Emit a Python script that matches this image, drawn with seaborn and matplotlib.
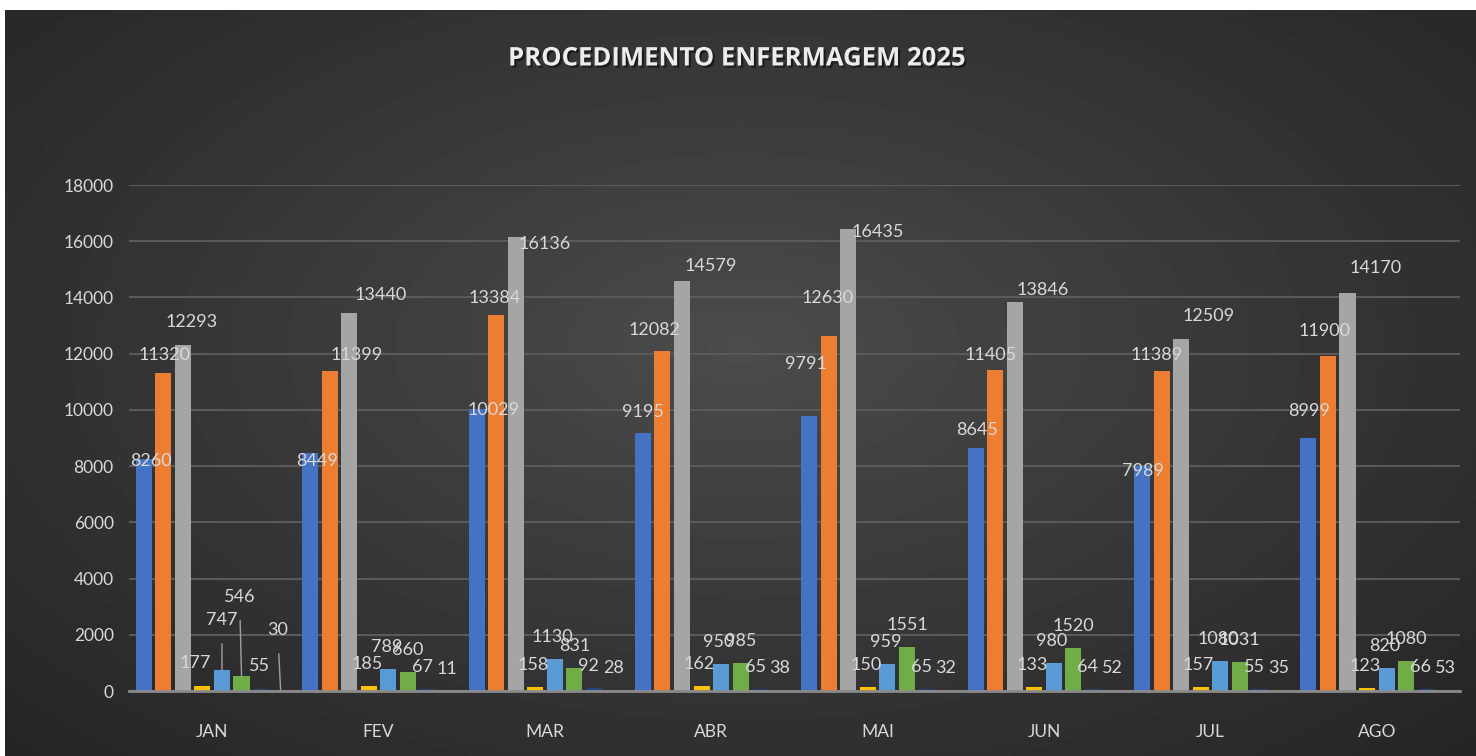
import numpy as np
import pandas as pd
import matplotlib
matplotlib.use("Agg")
import matplotlib.pyplot as plt
import matplotlib.patheffects as pe
import seaborn as sns

months = ["JAN", "FEV", "MAR", "ABR", "MAI", "JUN", "JUL", "AGO"]
series_names = ["Série 1", "Série 2", "Série 3", "Série 4", "Série 5", "Série 6", "Série 7", "Série 8"]
s1 = [8260, 8449, 10029, 9195, 9791, 8645, 7989, 8999]
s2 = [11320, 11399, 13384, 12082, 12630, 11405, 11389, 11900]
s3 = [12293, 13440, 16136, 14579, 16435, 13846, 12509, 14170]
s4 = [177, 185, 158, 162, 150, 133, 157, 123]
s5 = [747, 789, 1130, 950, 959, 980, 1080, 820]
s6 = [546, 660, 831, 985, 1551, 1520, 1031, 1080]
s7 = [55, 67, 92, 65, 65, 64, 55, 66]
s8 = [30, 11, 28, 38, 32, 52, 35, 53]
yticks = [0, 2000, 4000, 6000, 8000, 10000, 12000, 14000, 16000, 18000]
title = "PROCEDIMENTO ENFERMAGEM 2025"

colors = ["#4472C4", "#ED7D31", "#A5A5A5", "#FFC000", "#5B9BD5", "#70AD47", "#264478", "#9E480E"]

# data-label placement (pixels from bar-top centre): Excel-like layout
label_dx = {0: [7, 7, 17, 0, -3, 1, 1, 1],
            1: [1, 27, -1, -8, -1, -5, -5, -3],
            2: [9, 31, 29, 29, 29, 28, 27, 28]}
label_dy = {0: [-2, -8, -1, 21, 52, 18, -5, 27],
            1: [18, 16, 17, 21, 38, 15, 16, 25],
            2: [23, 18, -7, 15, -3, 12, 23, 25]}
small_dx = {3: -2, 4: -2, 5: 0, 6: -5, 7: 0}
# special JAN labels (series index -> (dx, dy, leader))
jan_special = {3: (-7, 23, False), 4: (0, 50, True), 5: (-2, 79, True),
               6: (-2, 23, False), 7: (-3, 60, True)}

all_series = [s1, s2, s3, s4, s5, s6, s7, s8]
rows = []
for name, vals in zip(series_names, all_series):
    for m, v in zip(months, vals):
        rows.append({"mes": m, "serie": name, "valor": v})
df = pd.DataFrame(rows)

sns.set_theme(style="dark")
plt.rcParams["font.family"] = ["Lato", "DejaVu Sans"]

W, H = 1476, 756
fig = plt.figure(figsize=(W / 100, H / 100), dpi=100)
fig.patch.set_facecolor("white")

# background with radial gradient
bg = fig.add_axes([5 / W, 0, 1 - 5 / W, 1 - 10 / H])
yy, xx = np.mgrid[0:1:200j, 0:1:400j]
r = np.sqrt(((xx - 0.5) / 0.5) ** 2 + ((yy - 0.45) / 0.55) ** 2) / np.sqrt(2)
r = np.clip(r, 0, 1) ** 0.9
c0, c1 = 0.30, 0.145
img = c0 + (c1 - c0) * r
bg.imshow(img, cmap="gray", vmin=0, vmax=1, aspect="auto", extent=[0, 1, 0, 1])
bg.set_axis_off()

ax = fig.add_axes([129 / W, 65 / H, 1331 / W, 506 / H])
ax.set_facecolor("none")
sns.barplot(data=df, x="mes", y="valor", hue="serie", palette=colors,
            width=0.94, gap=0.18, ax=ax, legend=False, saturation=1,
            errorbar=None, linewidth=0)

ax.set_ylim(0, 18000)
ax.set_xlim(-0.5, 7.5)
ax.set_yticks(yticks)
ax.set_yticklabels([str(t) for t in yticks])
ax.grid(axis="y", color="#5a5a5a", linewidth=1.5)
ax.grid(axis="x", visible=False)
ax.set_axisbelow(True)
for sp in ["top", "right", "left"]:
    ax.spines[sp].set_visible(False)
ax.spines["bottom"].set_color("#8a8a8a")
ax.spines["bottom"].set_linewidth(2)
ax.tick_params(axis="y", colors="#d9d9d9", labelsize=12.5, length=0, pad=11)
ax.tick_params(axis="x", colors="#d9d9d9", labelsize=12.5, length=0, pad=24)
ax.set_xlabel("")
ax.set_ylabel("")

px2pt = 72 / 100
lab_col = "#d9d9d9"
for si, cont in enumerate(ax.containers):
    for mi, bar in enumerate(cont):
        h = bar.get_height()
        x = bar.get_x() + bar.get_width() / 2
        dx, dy, leader = small_dx.get(si, 0), 22, False
        if si in label_dx:
            dx, dy = label_dx[si][mi], label_dy[si][mi]
        if mi == 0 and si in jan_special:
            dx, dy, leader = jan_special[si]
        kw = {}
        if leader:
            kw["arrowprops"] = dict(arrowstyle="-", color="#a0a0a0", lw=1,
                                    shrinkA=9, shrinkB=0)
        ax.annotate(f"{int(h)}", xy=(x, h), xytext=(dx * px2pt, dy * px2pt),
                    textcoords="offset points", ha="center", va="center",
                    color=lab_col, fontsize=13, annotation_clip=False, **kw)

fig.text(0.5, 1 - 58 / H, title, ha="center", va="center", color="#ececec",
         fontsize=18.5, fontweight="bold", family=["Open Sans", "DejaVu Sans"],
         path_effects=[pe.withSimplePatchShadow(offset=(1.5, -1.5), shadow_rgbFace="black", alpha=0.5)])

fig.savefig("out.png", dpi=100, facecolor=fig.get_facecolor())
